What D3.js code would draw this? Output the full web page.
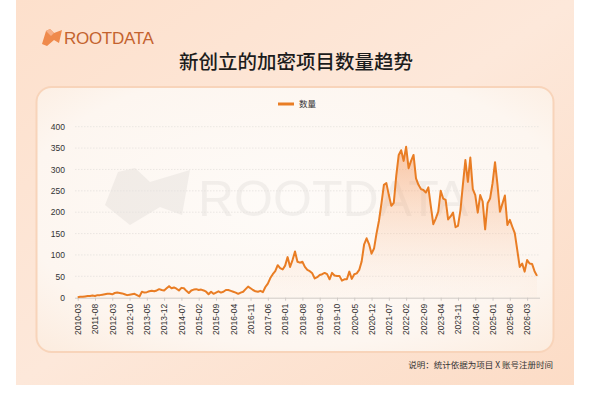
<!DOCTYPE html>
<html>
<head>
<meta charset="utf-8">
<script src="https://cdn.jsdelivr.net/npm/d3@7"></script>
<style>
  html, body { margin: 0; padding: 0; background: #fff; }
  svg { display: block; }
</style>
</head>
<body>
<script>
// tick labels on the category axis (one every 7 points)
const tickLabels = ["2010-03", "2011-08", "2012-03", "2012-10", "2013-05", "2013-12", "2014-07",
  "2015-02", "2015-09", "2016-04", "2016-11", "2017-06", "2018-01", "2018-08", "2019-03",
  "2019-10", "2020-05", "2020-12", "2021-07", "2022-02", "2022-09", "2023-04", "2023-11",
  "2024-06", "2025-01", "2025-08", "2026-03"];

// monthly count of newly founded projects
const values = [
  1, 2, 2, 3, 4, 4, 5, 4, 6, 6, 7, 8, 9, 9, 8, 11, 12, 11, 10, 8,
  6, 7, 8, 9, 6, 3, 14, 12, 13, 15, 16, 15, 17, 20, 18, 17, 22, 27, 22, 24,
  21, 17, 23, 22, 16, 11, 17, 19, 20, 18, 19, 17, 14, 8, 14, 9, 12, 15, 12, 14,
  18, 18, 16, 14, 12, 9, 12, 14, 20, 26, 22, 18, 15, 14, 16, 13, 25, 33, 46, 55,
  62, 76, 69, 66, 75, 95, 72, 88, 108, 84, 82, 84, 72, 65, 62, 57, 45, 48, 53, 55,
  58, 55, 43, 58, 52, 51, 51, 40, 43, 43, 61, 44, 55, 57, 65, 85, 125, 139, 125, 103,
  115, 150, 180, 220, 264, 268, 240, 215, 222, 285, 334, 345, 320, 353, 303, 320, 334, 279, 264, 254,
  252, 246, 258, 214, 172, 185, 201, 250, 232, 229, 183, 190, 199, 165, 168, 205, 265, 322, 271, 328,
  254, 240, 199, 240, 225, 160, 221, 232, 268, 317, 264, 201, 220, 239, 170, 182, 166, 151, 112, 72,
  80, 61, 88, 80, 79, 62, 51
];

const yTicks = [0, 50, 100, 150, 200, 250, 300, 350, 400];
const seriesName = "数量";
const title = "新创立的加密项目数量趋势";
const note = "说明：统计依据为项目 X 账号注册时间";

const width = 600, height = 395;
const marginLeft = 77.7, marginRight = 63, marginTop = 126.7, marginBottom = 97.3;
const tickStep = 7;
const lineColor = "#e97d24";
const cjk = "'Noto Sans CJK SC', 'Noto Sans', sans-serif";
const latin = "'Liberation Sans', Arial, sans-serif";

const svg = d3.select("body").append("svg")
    .attr("width", width)
    .attr("height", height)
    .attr("viewBox", [0, 0, width, height]);

const defs = svg.append("defs");

const bg = defs.append("linearGradient").attr("id", "bg")
    .attr("x1", 0).attr("y1", 0).attr("x2", 1).attr("y2", 1);
bg.append("stop").attr("offset", "0%").attr("stop-color", "#fde0cc");
bg.append("stop").attr("offset", "50%").attr("stop-color", "#fde8da");
bg.append("stop").attr("offset", "100%").attr("stop-color", "#fcdcc6");

const cardFill = defs.append("radialGradient").attr("id", "card")
    .attr("cx", "50%").attr("cy", "45%").attr("r", "75%");
cardFill.append("stop").attr("offset", "0%").attr("stop-color", "#fefbf8");
cardFill.append("stop").attr("offset", "70%").attr("stop-color", "#fdf6f0");
cardFill.append("stop").attr("offset", "100%").attr("stop-color", "#fcebdd");

const areaFill = defs.append("linearGradient").attr("id", "areaFill")
    .attr("gradientUnits", "userSpaceOnUse")
    .attr("x1", 0).attr("y1", marginTop).attr("x2", 0).attr("y2", height - marginBottom);
areaFill.append("stop").attr("offset", "0%").attr("stop-color", "#f2843f").attr("stop-opacity", 0.55);
areaFill.append("stop").attr("offset", "100%").attr("stop-color", "#fbd2b5").attr("stop-opacity", 0.05);

// page background + card
svg.append("rect")
    .attr("x", 16).attr("y", 0).attr("width", 558).attr("height", 385)
    .attr("fill", "url(#bg)");

svg.append("rect")
    .attr("x", 36.5).attr("y", 87).attr("width", 517).attr("height", 265)
    .attr("rx", 15)
    .attr("fill", "url(#card)")
    .attr("stroke", "#f8d4ba")
    .attr("stroke-width", 2);

// logo
const logo = svg.append("g").attr("transform", "translate(42,28)");
logo.append("path")
    .attr("d", "M0,16 L4,3 L8,1 L12,5 L20,2 L17,15 L12,12 L5,18 Z")
    .attr("fill", "#ef8a4c");
logo.append("path")
    .attr("d", "M4,3 L8,1 L12,5 L9,8 Z")
    .attr("fill", "#f6b088");
logo.append("text")
    .attr("x", 22).attr("y", 16)
    .attr("font-family", latin)
    .attr("font-size", 17)
    .attr("letter-spacing", -0.3)
    .attr("fill", "#c4622e")
    .text("ROOTDATA");

// title
svg.append("text")
    .attr("x", 296).attr("y", 69)
    .attr("text-anchor", "middle")
    .attr("font-family", cjk)
    .attr("font-size", 19.5)
    .attr("font-weight", 500)
    .attr("fill", "#1c1c1c")
    .text(title);

// watermark
const wm = svg.append("g").attr("opacity", 0.045);
wm.append("path")
    .attr("d", "M105,205 L118,172 L135,168 L150,182 L190,170 L182,215 L160,207 L130,225 Z")
    .attr("fill", "#000");
wm.append("text")
    .attr("x", 198).attr("y", 216)
    .attr("font-family", latin)
    .attr("font-size", 50)
    .attr("fill", "#000")
    .text("ROOTDATA");

const x = d3.scaleLinear()
    .domain([0, values.length - 1])
    .range([marginLeft, width - marginRight]);

const y = d3.scaleLinear()
    .domain([0, 400])
    .range([height - marginBottom, marginTop]);

// gridlines
svg.append("g")
  .selectAll("line")
  .data(yTicks.filter(d => d > 0))
  .join("line")
    .attr("x1", 75).attr("x2", 540)
    .attr("y1", d => y(d)).attr("y2", d => y(d))
    .attr("stroke", "#e6e2de")
    .attr("stroke-width", 0.8)
    .attr("stroke-dasharray", "1.5,1.5");

// y axis
svg.append("g")
    .attr("transform", `translate(65,0)`)
    .call(d3.axisLeft(y).tickValues(yTicks).tickSize(0).tickPadding(0))
    .call(g => g.select(".domain").remove())
    .call(g => g.selectAll("text")
        .attr("font-family", latin)
        .attr("font-size", 8.5)
        .attr("fill", "#333"));

// x axis
const tickIdx = tickLabels.map((d, i) => i * tickStep);
svg.append("g")
    .attr("transform", `translate(0,${height - marginBottom})`)
    .call(d3.axisBottom(x)
        .tickValues(tickIdx)
        .tickFormat(i => tickLabels[i / tickStep])
        .tickSize(3)
        .tickSizeOuter(0))
    .call(g => g.select(".domain")
        .attr("d", `M75,0.5H540`)
        .attr("stroke", "#cfcac6"))
    .call(g => g.selectAll(".tick line").attr("stroke", "#cfcac6"))
    .call(g => g.selectAll("text")
        .attr("font-family", latin)
        .attr("font-size", 8.5)
        .attr("fill", "#333")
        .attr("text-anchor", "end")
        .attr("transform", "rotate(-90)")
        .attr("x", -6)
        .attr("y", 0)
        .attr("dy", "0.32em"));

// area + line
svg.append("path")
    .datum(values)
    .attr("fill", "url(#areaFill)")
    .attr("d", d3.area()
        .x((d, i) => x(i))
        .y0(y(0))
        .y1(d => y(d)));

svg.append("path")
    .datum(values)
    .attr("fill", "none")
    .attr("stroke", lineColor)
    .attr("stroke-width", 2)
    .attr("stroke-linejoin", "round")
    .attr("d", d3.line()
        .x((d, i) => x(i))
        .y(d => y(d)));

// legend
svg.append("line")
    .attr("x1", 278).attr("x2", 294)
    .attr("y1", 104).attr("y2", 104)
    .attr("stroke", lineColor)
    .attr("stroke-width", 3);
svg.append("text")
    .attr("x", 299).attr("y", 104)
    .attr("dy", "0.35em")
    .attr("font-family", cjk)
    .attr("font-size", 8.5)
    .attr("fill", "#333")
    .text(seriesName);

// footnote
svg.append("text")
    .attr("x", 553).attr("y", 365)
    .attr("dy", "0.35em")
    .attr("text-anchor", "end")
    .attr("font-family", cjk)
    .attr("font-size", 8.5)
    .attr("fill", "#333")
    .text(note);
</script>
</body>
</html>
